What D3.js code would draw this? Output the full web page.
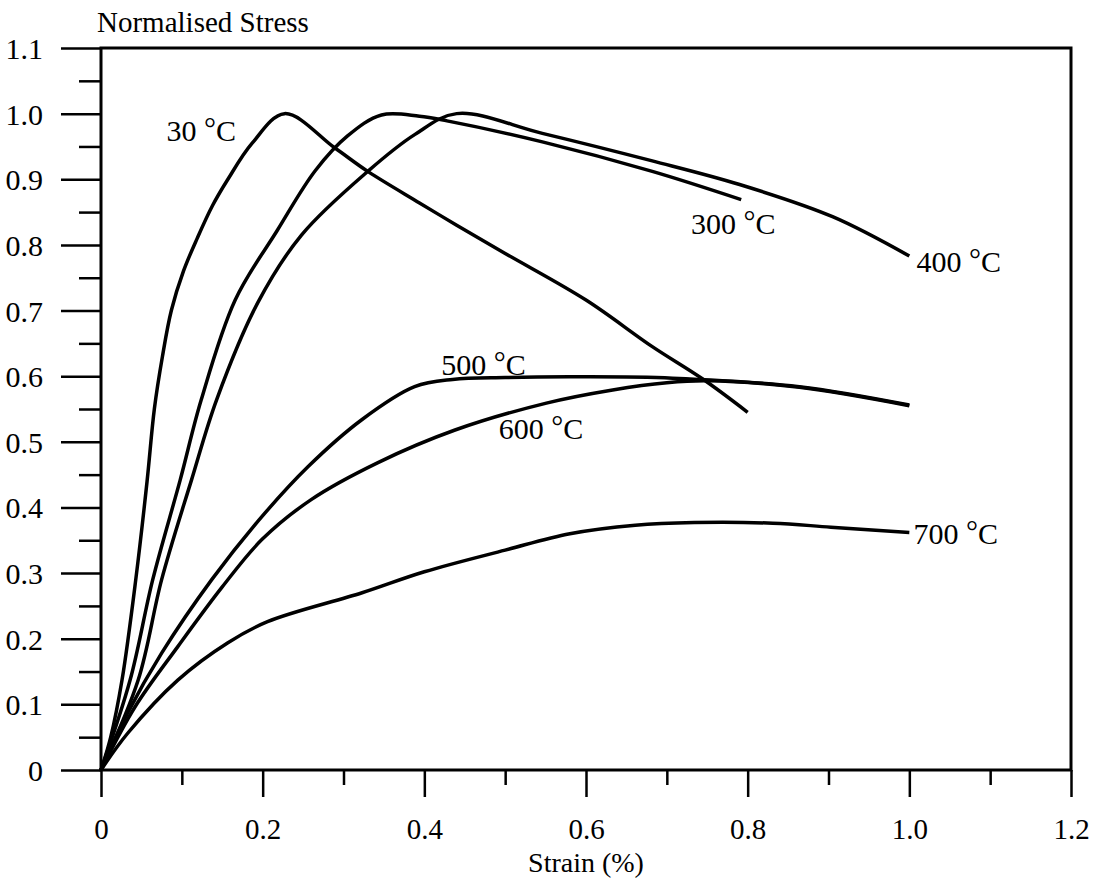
<!DOCTYPE html>
<html>
<head>
<meta charset="utf-8">
<script src="https://cdn.jsdelivr.net/npm/d3@7"></script>
<style>
  body { margin: 0; background: #fff; }
  text { font-family: "Liberation Serif", "Times New Roman", serif; fill: #000; }
</style>
</head>
<body>
<div id="chart"></div>
<script>
// strain (%) vs normalised stress
var curve30 = [[0,0],[0.012,0.05],[0.026,0.137],[0.043,0.29],[0.057,0.44],[0.066,0.55],[0.076,0.63],
  [0.087,0.7],[0.102,0.76],[0.119,0.81],[0.138,0.86],[0.157,0.9],[0.187,0.955],[0.227,1.0],[0.289,0.948],
  [0.33,0.912],[0.394,0.864],[0.44,0.83],[0.5,0.787],[0.6,0.716],[0.682,0.645],[0.744,0.596],[0.8,0.545]];
var curve300 = [[0,0],[0.036,0.137],[0.064,0.29],[0.098,0.442],[0.124,0.564],[0.166,0.716],[0.218,0.822],
  [0.265,0.913],[0.305,0.966],[0.347,0.998],[0.394,0.996],[0.428,0.989],[0.546,0.957],[0.682,0.912],[0.792,0.869]];
var curve400 = [[0,0],[0.046,0.137],[0.075,0.29],[0.112,0.442],[0.143,0.564],[0.194,0.712],[0.248,0.815],
  [0.33,0.912],[0.388,0.968],[0.44,1.0],[0.546,0.97],[0.682,0.928],[0.79,0.892],[0.905,0.843],[1.0,0.783]];
var curve500 = [[0,0],[0.033,0.087],[0.075,0.178],[0.137,0.29],[0.199,0.386],[0.256,0.462],[0.323,0.534],
  [0.388,0.584],[0.435,0.595],[0.5,0.598],[0.592,0.599],[0.707,0.597],[0.864,0.584],[1.0,0.556]];
var curve600 = [[0,0],[0.042,0.096],[0.095,0.188],[0.15,0.279],[0.199,0.351],[0.26,0.412],[0.342,0.468],
  [0.438,0.518],[0.551,0.559],[0.633,0.579],[0.7,0.59],[0.75,0.593],[0.864,0.583],[1.0,0.555]];
var curve700 = [[0,0],[0.033,0.056],[0.095,0.137],[0.157,0.194],[0.206,0.226],[0.323,0.27],[0.4,0.302],
  [0.5,0.335],[0.58,0.36],[0.661,0.373],[0.734,0.377],[0.831,0.376],[0.903,0.37],[1.0,0.362]];

var temps = ["30", "300", "400", "500", "600", "700"];
var curves = [curve30, curve300, curve400, curve500, curve600, curve700];
// where each temperature label sits (data units: left edge, baseline)
var labelPos = [[0.081,0.958],[0.73,0.816],[1.009,0.758],[0.421,0.602],[0.492,0.504],[1.005,0.345]];

var xMajor = [0, 0.2, 0.4, 0.6, 0.8, 1.0, 1.2];
var xMinor = [0.1, 0.3, 0.5, 0.7, 0.9, 1.1];
var yMajor = [0, 0.1, 0.2, 0.3, 0.4, 0.5, 0.6, 0.7, 0.8, 0.9, 1.0, 1.1];
var yMinor = [0.05, 0.15, 0.25, 0.35, 0.45, 0.55, 0.65, 0.75, 0.85, 0.95, 1.05];

var width = 1093, height = 879;

var svg = d3.select("#chart").append("svg")
  .attr("width", width)
  .attr("height", height);

var x = d3.scaleLinear().domain([0, 1.2]).range([101, 1071]);
var y = d3.scaleLinear().domain([0, 1.1]).range([770, 48]);

var fmt = function (d) { return d === 0 ? "0" : d3.format(".1f")(d); };

// x axis: minor then major ticks
svg.append("g")
  .attr("transform", "translate(0," + y(0) + ")")
  .call(d3.axisBottom(x).tickValues(xMinor).tickSize(15).tickFormat(""))
  .call(function (g) { g.select(".domain").remove(); });

var xAxis = svg.append("g")
  .attr("transform", "translate(0," + y(0) + ")")
  .call(d3.axisBottom(x).tickValues(xMajor).tickSize(27).tickFormat(fmt));
xAxis.select(".domain").remove();
xAxis.selectAll("text")
  .attr("y", 48)
  .attr("dy", "0.71em")
  .style("font-size", "29px")
  .style("font-family", "Liberation Serif, serif");

// y axis
svg.append("g")
  .attr("transform", "translate(" + x(0) + ",0)")
  .call(d3.axisLeft(y).tickValues(yMinor).tickSize(22).tickFormat(""))
  .call(function (g) { g.select(".domain").remove(); });

var yAxis = svg.append("g")
  .attr("transform", "translate(" + x(0) + ",0)")
  .call(d3.axisLeft(y).tickValues(yMajor).tickSize(40).tickFormat(fmt));
yAxis.select(".domain").remove();
yAxis.selectAll("text")
  .attr("x", -58)
  .attr("dy", "0.35em")
  .style("font-size", "30px")
  .style("font-family", "Liberation Serif, serif");

svg.selectAll(".tick line").attr("stroke", "#000").attr("stroke-width", 2.5);

// frame
svg.append("rect")
  .attr("x", x(0))
  .attr("y", y(1.1))
  .attr("width", x(1.2) - x(0))
  .attr("height", y(0) - y(1.1))
  .attr("fill", "none")
  .attr("stroke", "#000")
  .attr("stroke-width", 3);

// curves
var line = d3.line()
  .x(function (d) { return x(d[0]); })
  .y(function (d) { return y(d[1]); })
  .curve(d3.curveCatmullRom.alpha(0.5));

svg.selectAll(".curve")
  .data(curves)
  .enter().append("path")
  .attr("class", "curve")
  .attr("d", line)
  .attr("fill", "none")
  .attr("stroke", "#000")
  .attr("stroke-width", 3.5)
  .attr("stroke-linejoin", "round");

// temperature labels
var labels = svg.selectAll(".tlabel")
  .data(temps)
  .enter().append("text")
  .attr("class", "tlabel")
  .attr("x", function (d, i) { return x(labelPos[i][0]); })
  .attr("y", function (d, i) { return y(labelPos[i][1]); })
  .style("font-size", "30px");
labels.append("tspan").text(function (d) { return d + " "; });
labels.append("tspan").attr("dy", -3).text("°");
labels.append("tspan").attr("dy", 3).text("C");

// axis titles
svg.append("text")
  .attr("x", 97)
  .attr("y", 32)
  .style("font-size", "29px")
  .text("Normalised Stress");

svg.append("text")
  .attr("x", x(0.6))
  .attr("y", 872)
  .attr("text-anchor", "middle")
  .style("font-size", "28px")
  .text("Strain (%)");
</script>
</body>
</html>
